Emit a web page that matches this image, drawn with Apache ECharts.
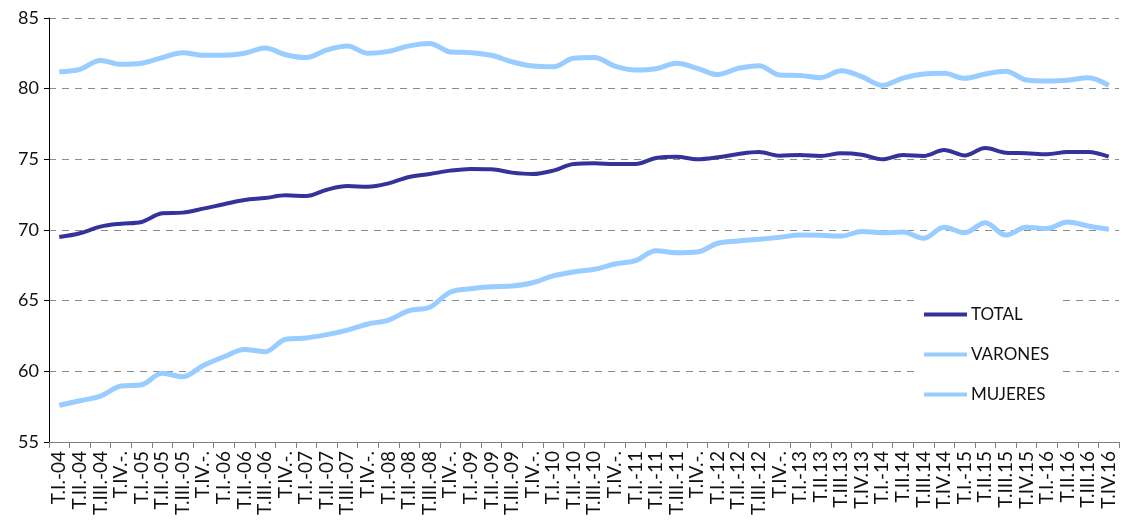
<!DOCTYPE html>
<html>
<head>
<meta charset="utf-8">
<script src="https://cdn.jsdelivr.net/npm/echarts@6/dist/echarts.min.js"></script>
<style>
  html, body { margin: 0; padding: 0; background: #fff; }
  #chart { width: 1123px; height: 530px; }
</style>
</head>
<body>
<div id="chart"></div>
<script>
// trimestres 2004 - 2016
var categories = [
    'T.I.-04', 'T.II.-04', 'T.III.-04', 'T.IV.-.',
    'T.I.-05', 'T.II.-05', 'T.III.-05', 'T.IV.-.',
    'T.I.-06', 'T.II.-06', 'T.III.-06', 'T.IV.-.',
    'T.I.-07', 'T.II.-07', 'T.III.-07', 'T.IV.-.',
    'T.I.-08', 'T.II.-08', 'T.III.-08', 'T.IV.-.',
    'T.I.-09', 'T.II.-09', 'T.III.-09', 'T.IV.-.',
    'T.I.-10', 'T.II.-10', 'T.III.-10', 'T.IV.-.',
    'T.I.-11', 'T.II.-11', 'T.III.-11', 'T.IV.-.',
    'T.I.-12', 'T.II.-12', 'T.III.-12', 'T.IV.-.',
    'T.I.-13', 'T.II.13', 'T.III.13', 'T.IV.13',
    'T.I.-14', 'T.II.14', 'T.III.14', 'T.IV.14',
    'T.I.-15', 'T.II.15', 'T.III.15', 'T.IV.15',
    'T.I.-16', 'T.II.16', 'T.III.16', 'T.IV.16'
];

var total = [69.5, 69.77, 70.24, 70.45, 70.57, 71.18, 71.23, 71.51, 71.82, 72.12,
    72.26, 72.45, 72.4, 72.85, 73.11, 73.06, 73.3, 73.75, 73.96, 74.2,
    74.32, 74.3, 74.06, 73.96, 74.2, 74.67, 74.72, 74.67, 74.67, 75.1,
    75.19, 75.0, 75.14, 75.38, 75.52, 75.26, 75.31, 75.24, 75.43, 75.33,
    75.0, 75.31, 75.24, 75.66, 75.28, 75.8, 75.47, 75.43, 75.36, 75.52,
    75.52, 75.19];

var varones = [81.2, 81.37, 82.0, 81.72, 81.8, 82.2, 82.55, 82.36, 82.36, 82.5,
    82.88, 82.4, 82.2, 82.74, 83.02, 82.5, 82.64, 83.03, 83.2, 82.6,
    82.55, 82.36, 81.9, 81.6, 81.55, 82.15, 82.2, 81.6, 81.32, 81.41,
    81.8, 81.44, 81.0, 81.44, 81.63, 80.97, 80.94, 80.78, 81.27, 80.85,
    80.23, 80.75, 81.04, 81.09, 80.73, 81.04, 81.23, 80.61, 80.54, 80.59,
    80.78, 80.23];

var mujeres = [57.6, 57.92, 58.25, 58.96, 59.05, 59.86, 59.62, 60.42, 61.03, 61.55,
    61.39, 62.27, 62.36, 62.6, 62.92, 63.35, 63.63, 64.29, 64.53, 65.6,
    65.85, 65.99, 66.04, 66.27, 66.75, 67.03, 67.22, 67.59, 67.83, 68.53,
    68.39, 68.44, 69.06, 69.22, 69.34, 69.48, 69.64, 69.62, 69.57, 69.9,
    69.81, 69.85, 69.41, 70.19, 69.81, 70.52, 69.64, 70.19, 70.11, 70.57,
    70.28, 70.05];

var font = 'Lato, "Open Sans", sans-serif';

var myChart = echarts.init(document.getElementById('chart'), null, {renderer: 'canvas'});

var options = {
    backgroundColor: '#fff',
    animation: false,
    textStyle: {fontFamily: font},
    grid: {left: 49, right: 4, top: 18, bottom: 88, containLabel: false},
    legend: {
        orient: 'vertical',
        left: 914,
        top: 296,
        padding: [10, 10, 8, 10],
        backgroundColor: '#fff',
        icon: 'rect',
        itemWidth: 43,
        itemHeight: 4,
        itemGap: 23,
        textStyle: {fontSize: 17, color: '#111', fontFamily: font, padding: [0, 0, 0, -1]},
        data: ['TOTAL', 'VARONES', 'MUJERES']
    },
    xAxis: {
        type: 'category',
        data: categories,
        boundaryGap: true,
        axisLine: {show: true, lineStyle: {color: '#808080', width: 1}},
        axisTick: {show: true, interval: 0, length: 6, lineStyle: {color: '#808080'}},
        axisLabel: {
            interval: 0,
            rotate: 90,
            margin: 9,
            fontSize: 19,
            color: '#111',
            fontFamily: font
        },
        splitLine: {show: false}
    },
    yAxis: {
        type: 'value',
        min: 55,
        max: 85,
        interval: 5,
        axisLine: {show: true, lineStyle: {color: '#000', width: 1}},
        axisTick: {show: true, length: 5, lineStyle: {color: '#000'}},
        axisLabel: {fontSize: 18, color: '#111', margin: 10, fontFamily: font},
        splitLine: {show: true, lineStyle: {color: '#8c8c8c', width: 1, type: [7, 6]}}
    },
    series: [
        {
            name: 'TOTAL',
            type: 'line',
            data: total,
            smooth: 0.35,
            symbol: 'none',
            lineStyle: {color: '#333399', width: 4},
            itemStyle: {color: '#333399'},
            z: 3
        },
        {
            name: 'VARONES',
            type: 'line',
            data: varones,
            smooth: 0.35,
            symbol: 'none',
            lineStyle: {color: '#99CCFF', width: 5},
            itemStyle: {color: '#99CCFF'},
            z: 2
        },
        {
            name: 'MUJERES',
            type: 'line',
            data: mujeres,
            smooth: 0.35,
            symbol: 'none',
            lineStyle: {color: '#99CCFF', width: 5},
            itemStyle: {color: '#99CCFF'},
            z: 2
        }
    ]
};

myChart.setOption(options);
</script>
</body>
</html>
